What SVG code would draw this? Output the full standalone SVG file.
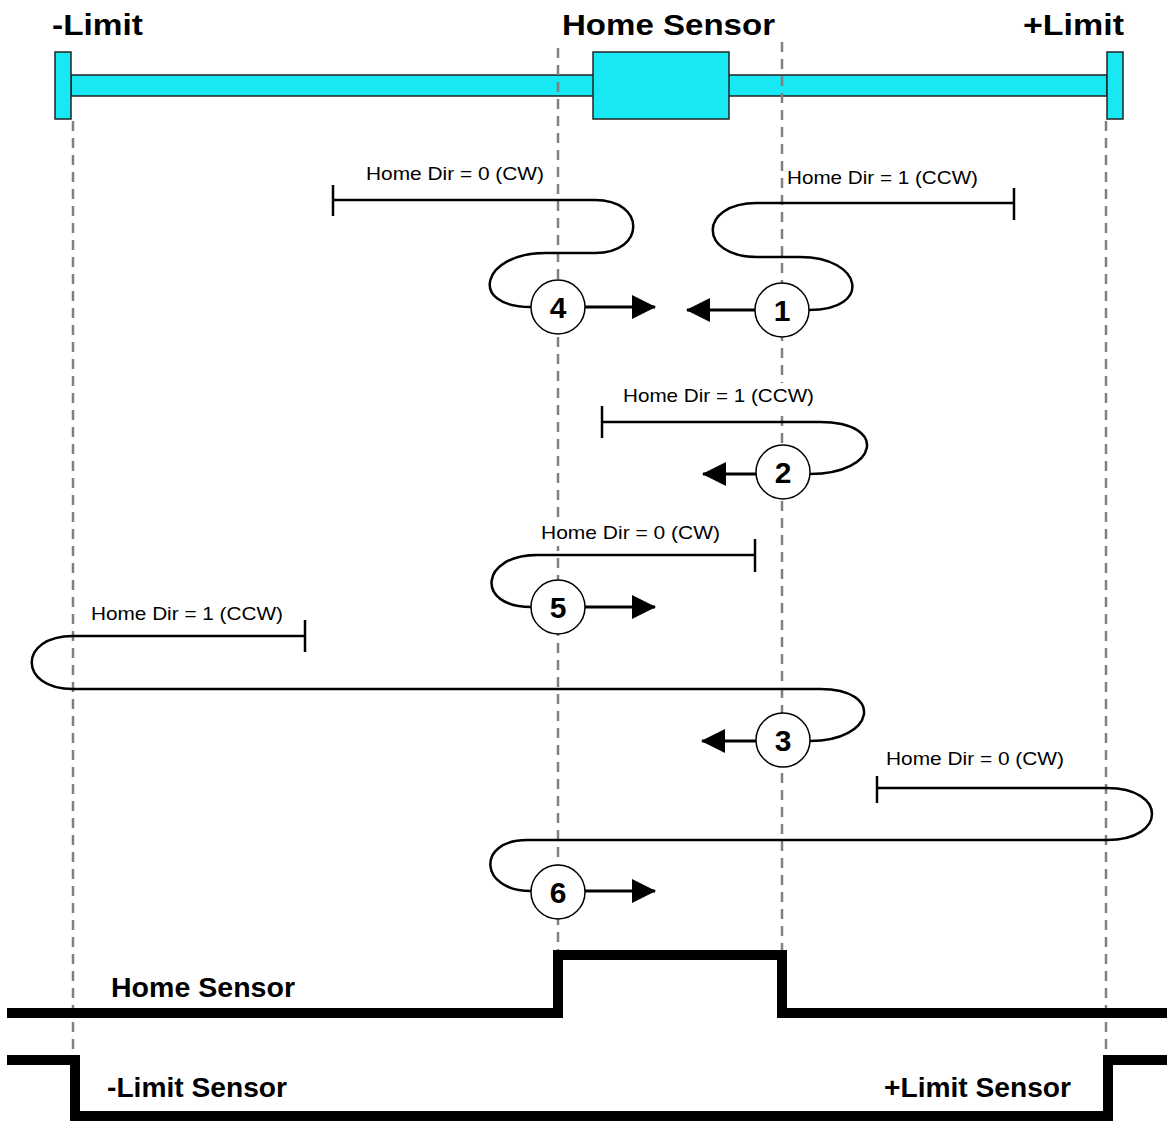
<svg xmlns="http://www.w3.org/2000/svg" width="1167" height="1121" viewBox="0 0 1167 1121">
<style>
.bar{fill:#18E8F4;stroke:#222;stroke-width:1.5}
.dash{stroke:#808080;stroke-width:2.5;stroke-dasharray:10 7;fill:none}
.path{fill:none;stroke:#000;stroke-width:2.5}
.tick{stroke:#000;stroke-width:2.5}
.arr{stroke:#000;stroke-width:3;fill:none}
.node circle{fill:#fff;stroke:#000;stroke-width:1.5}
.num{font-family:"Liberation Sans",Arial,sans-serif;font-weight:bold;font-size:30px;text-anchor:middle}
.big{font-family:"Liberation Sans",Arial,sans-serif;font-weight:bold;font-size:29px;fill:#000}
.lbl{font-family:"Liberation Sans",Arial,sans-serif;font-size:19px;fill:#000}
.lbg{fill:#fff;stroke:none}
.sig{fill:none;stroke:#000;stroke-width:10}
</style>
<defs>
<marker id="ah" markerUnits="userSpaceOnUse" markerWidth="24" markerHeight="24" refX="23" refY="12" orient="auto">
<path d="M0,0 L24,12 L0,24 Z" fill="#000"/>
</marker>
</defs>
<rect width="1167" height="1121" fill="#fff"/>

<g id="axis">
<rect class="bar" x="71" y="75" width="1036" height="21"/>
<rect class="bar" x="55" y="52" width="16" height="67"/>
<rect class="bar" x="1107" y="52" width="16" height="67"/>
<rect class="bar" x="593" y="52" width="136" height="67"/>
<text class="big" x="52" y="35" textLength="91" lengthAdjust="spacingAndGlyphs">-Limit</text>
<text class="big" x="562" y="35" textLength="213" lengthAdjust="spacingAndGlyphs">Home Sensor</text>
<text class="big" x="1023" y="35" textLength="101" lengthAdjust="spacingAndGlyphs">+Limit</text>
</g>

<g id="guides">
<line class="dash" x1="73" y1="121" x2="73" y2="1052"/>
<line class="dash" x1="558" y1="48" x2="558" y2="950"/>
<line class="dash" x1="782" y1="42" x2="782" y2="950"/>
<line class="dash" x1="1106" y1="121" x2="1106" y2="1052"/>
</g>

<g id="connectors">
<!-- 4 -->
<line class="tick" x1="333" y1="185" x2="333" y2="216"/>
<path class="path" d="M333,200 H595 C646,200 646,253 595,253 H545 C482,253 467,307 531,307"/>
<line class="arr" x1="585" y1="307" x2="655" y2="307" marker-end="url(#ah)"/>
<!-- 1 -->
<line class="tick" x1="1014" y1="188" x2="1014" y2="220"/>
<path class="path" d="M1014,203 H757 C698,203 698,257 757,257 H800 C863,257 873,310 809,310"/>
<line class="arr" x1="755" y1="310" x2="687" y2="310" marker-end="url(#ah)"/>
<!-- 2 -->
<line class="tick" x1="602" y1="406" x2="602" y2="438"/>
<path class="path" d="M602,422 H820 C889,422 879,474 810,474"/>
<line class="arr" x1="756" y1="474" x2="703" y2="474" marker-end="url(#ah)"/>
<!-- 5 -->
<line class="tick" x1="755" y1="539" x2="755" y2="572"/>
<path class="path" d="M755,555 H537 C480,555 475,607 531,607"/>
<line class="arr" x1="584" y1="607" x2="655" y2="607" marker-end="url(#ah)"/>
<!-- 3 -->
<line class="tick" x1="305" y1="620" x2="305" y2="652"/>
<path class="path" d="M305,636 H73 C18,636 18,689 73,689 H820 C885,689 875,741 810,741"/>
<line class="arr" x1="756" y1="741" x2="702" y2="741" marker-end="url(#ah)"/>
<!-- 6 -->
<line class="tick" x1="877" y1="776" x2="877" y2="803"/>
<path class="path" d="M877,788 H1107 C1167,788 1167,840 1107,840 H527 C476,840 479,891 531,891"/>
<line class="arr" x1="584" y1="891" x2="655" y2="891" marker-end="url(#ah)"/>
</g>

<g id="labels">
<rect class="lbg" x="619" y="383" width="199" height="26"/>
<rect class="lbg" x="537" y="520" width="187" height="26"/>
<text class="lbl" x="366" y="180" textLength="178" lengthAdjust="spacingAndGlyphs">Home Dir = 0 (CW)</text>
<text class="lbl" x="787" y="184" textLength="191" lengthAdjust="spacingAndGlyphs">Home Dir = 1 (CCW)</text>
<text class="lbl" x="623" y="402" textLength="191" lengthAdjust="spacingAndGlyphs">Home Dir = 1 (CCW)</text>
<text class="lbl" x="541" y="539" textLength="179" lengthAdjust="spacingAndGlyphs">Home Dir = 0 (CW)</text>
<text class="lbl" x="91" y="620" textLength="192" lengthAdjust="spacingAndGlyphs">Home Dir = 1 (CCW)</text>
<text class="lbl" x="886" y="765" textLength="178" lengthAdjust="spacingAndGlyphs">Home Dir = 0 (CW)</text>
</g>

<g id="n4" class="node"><circle cx="558" cy="307" r="27"/><text class="num" x="558" y="318">4</text></g>
<g id="n1" class="node"><circle cx="782" cy="310" r="27"/><text class="num" x="782" y="321">1</text></g>
<g id="n2" class="node"><circle cx="783" cy="472" r="27"/><text class="num" x="783" y="483">2</text></g>
<g id="n5" class="node"><circle cx="558" cy="607" r="27"/><text class="num" x="558" y="618">5</text></g>
<g id="n3" class="node"><circle cx="783" cy="740" r="27"/><text class="num" x="783" y="751">3</text></g>
<g id="n6" class="node"><circle cx="558" cy="892" r="27"/><text class="num" x="558" y="903">6</text></g>

<g id="signals">
<polyline class="sig" points="7,1013 558,1013 558,955 782,955 782,1013 1167,1013"/>
<polyline class="sig" points="7,1060 75,1060 75,1116 1108,1116 1108,1060 1167,1060"/>
<text class="big" x="111" y="997" textLength="184" lengthAdjust="spacingAndGlyphs" style="font-size:27px">Home Sensor</text>
<text class="big" x="107" y="1097" textLength="180" lengthAdjust="spacingAndGlyphs" style="font-size:27px">-Limit Sensor</text>
<text class="big" x="884" y="1097" textLength="187" lengthAdjust="spacingAndGlyphs" style="font-size:27px">+Limit Sensor</text>
</g>
</svg>
